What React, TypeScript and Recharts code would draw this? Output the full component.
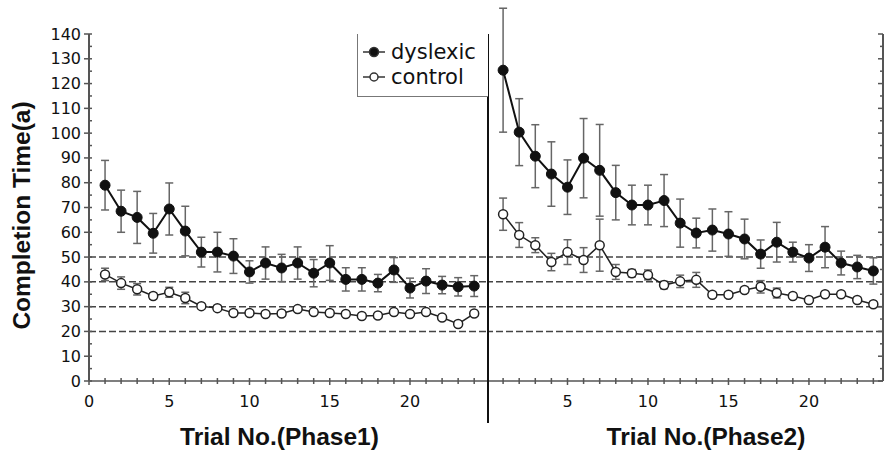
import React from "react";
import { ComposedChart, Line, XAxis, YAxis, ReferenceLine, ErrorBar, Label } from "recharts";

const trials = [1, 2, 3, 4, 5, 6, 7, 8, 9, 10, 11, 12, 13, 14, 15, 16, 17, 18, 19, 20, 21, 22, 23, 24];

// phase 1
const p1Dys = [79, 68.5, 66, 59.6, 69.4, 60.5, 52, 52, 50.4, 44, 47.6, 45.6, 47.6, 43.5, 47.6, 41, 41, 39.5, 44.8, 37.5, 40.3, 38.7, 38, 38.3];
const p1DysErr = [10, 8.5, 10.5, 8, 10.5, 10, 6, 8, 7, 4.5, 6.5, 5.5, 6.5, 5.5, 7, 4.7, 4.7, 3.5, 5, 4, 5, 3.5, 3.7, 4.2];
const p1Ctl = [43, 39.5, 37, 34.3, 35.8, 33.5, 30.2, 29.4, 27.4, 27.4, 27, 27.2, 29, 27.8, 27.4, 27, 26.2, 26.4, 27.8, 27, 27.8, 25.6, 23, 27.2];
const p1CtlErr = [2.5, 2.5, 2.3, 1.2, 2, 2.3, 1, 1, 0.8, 0.8, 0.8, 0.8, 0.8, 0.8, 0.8, 0.8, 0.8, 0.8, 1, 0.8, 0.8, 0.8, 1, 0.8];

// phase 2
const p2Dys = [125.4, 100.4, 90.7, 83.5, 78.2, 89.9, 85, 76, 71, 71, 72.8, 63.7, 59.7, 60.9, 59.3, 57.3, 51.2, 56, 52, 49.6, 54, 47.6, 46, 44.4];
const p2DysErr = [25, 13.5, 12.7, 13, 11, 16, 18.5, 11, 8, 8, 10.5, 9.7, 6, 8.5, 9, 8, 5.7, 8, 4, 5.4, 8.3, 4.8, 4.7, 5.3];
const p2Ctl = [67.3, 58.9, 54.8, 48, 52, 48.8, 54.8, 44, 43.5, 42.8, 38.7, 40.2, 40.8, 34.8, 34.8, 36.7, 38, 35.5, 34.3, 32.7, 35, 35, 32.7, 31];
const p2CtlErr = [6.5, 5, 3, 3.5, 5, 5, 10.5, 3, 1.5, 2, 1.5, 2.5, 3, 1, 1, 1, 2.5, 2, 1, 1, 1, 1, 1, 1];

const yTicks = [0, 5, 10, 15, 20, 25, 30, 35, 40, 45, 50, 55, 60, 65, 70, 75, 80, 85, 90, 95, 100, 105, 110, 115, 120, 125, 130, 135, 140];
const p1XTicks = [0, ...trials];
const p2XTicks = trials;
const dashedLevels = [20, 30, 40, 50];
const seriesNames = ["dyslexic", "control"];

const toRows = (dys: number[], dysErr: number[], ctl: number[], ctlErr: number[]) =>
  trials.map((t, i) => ({ trial: t, dys: dys[i], dysErr: dysErr[i], ctl: ctl[i], ctlErr: ctlErr[i] }));

const phase1 = toRows(p1Dys, p1DysErr, p1Ctl, p1CtlErr);
const phase2 = toRows(p2Dys, p2DysErr, p2Ctl, p2CtlErr);

const AXIS = "#555";
const INK = "#111";
const TICK_FONT = "DejaVu Sans, sans-serif";
const TITLE_FONT = "Liberation Sans, Arial, sans-serif";

const LeftYTick = (props: any) => {
  const { x, y, payload } = props;
  const major = payload.value % 10 === 0;
  return (
    <g>
      <line x1={major ? x - 5 : x} x2={x + 3} y1={y} y2={y} stroke={AXIS} strokeWidth={1.5} />
      {major && (
        <text x={x - 8} y={y} dy={5.5} textAnchor="end" fontSize={16} fill={INK} fontFamily={TICK_FONT}>
          {payload.value}
        </text>
      )}
    </g>
  );
};

const RightYTick = (props: any) => {
  const { x, y, payload } = props;
  const major = payload.value % 10 === 0;
  return <line x1={x - (major ? 5 : 3)} x2={x} y1={y} y2={y} stroke={AXIS} strokeWidth={1.5} />;
};

const makeXTick = (showZero: boolean) => (props: any) => {
  const { x, y, payload } = props;
  const v = payload.value;
  const labelled = v % 5 === 0 && (showZero || v !== 0);
  return (
    <g>
      <line x1={x} x2={x} y1={y - 3} y2={y + (labelled ? 4 : 3)} stroke={AXIS} strokeWidth={1.5} />
      {labelled && (
        <text x={x} y={y + 26} textAnchor="middle" fontSize={16} fill={INK} fontFamily={TICK_FONT}>
          {v}
        </text>
      )}
    </g>
  );
};

const XTitle = (text: string, shift: number) => (props: any) => {
  const { x, y, width } = props.viewBox;
  return (
    <text x={x + width / 2 + shift} y={y + 64} textAnchor="middle" fontSize={24.5} fontWeight="bold" fill={INK} fontFamily={TITLE_FONT}>
      {text}
    </text>
  );
};

const YTitle = (props: any) => {
  const { x, y, height } = props.viewBox;
  const cx = x + 21;
  const cy = y + height / 2 + 8;
  return (
    <text x={cx} y={cy} transform={`rotate(-90 ${cx} ${cy})`} textAnchor="middle" dominantBaseline="central" fontSize={24.5} fontWeight="bold" fill={INK} fontFamily={TITLE_FONT}>
      Completion Time(a)
    </text>
  );
};

const seriesLines = () => [
  <Line key="dys" xAxisId="b" dataKey="dys" type="linear" stroke={INK} strokeWidth={2}
    dot={{ r: 5, fill: INK, stroke: INK, strokeWidth: 1 }} isAnimationActive={false}>
    <ErrorBar dataKey="dysErr" direction="y" width={4} stroke="#666" strokeWidth={1.5} isAnimationActive={false} />
  </Line>,
  <Line key="ctl" xAxisId="b" dataKey="ctl" type="linear" stroke="#222" strokeWidth={1.5}
    dot={{ r: 4.5, fill: "#fff", stroke: "#222", strokeWidth: 1.5 }} isAnimationActive={false}>
    <ErrorBar dataKey="ctlErr" direction="y" width={4} stroke="#666" strokeWidth={1.5} isAnimationActive={false} />
  </Line>,
];

const dashed = () =>
  dashedLevels.map((lv) => (
    <ReferenceLine key={lv} xAxisId="b" y={lv} stroke="#444" strokeDasharray="7 3" strokeWidth={1.5} />
  ));

export default function App() {
  return (
    <div className="fig" style={{ position: "absolute", left: 0, top: 0, width: 888, height: 452, background: "#fff", fontFamily: TICK_FONT }}>
      {/* the first phase-2 error bar runs past the 140 frame, as in the original */}
      <style>{".fig .recharts-line [clip-path], .fig .recharts-line[clip-path] { clip-path: none; }"}</style>
      <div style={{ position: "absolute", left: 0, top: 0 }}>
        <ComposedChart width={488} height={452} data={phase1} margin={{ top: 34, right: 0, bottom: 0, left: 0 }}>
          <XAxis xAxisId="t" orientation="top" type="number" dataKey="trial" domain={[0, 24.86]} height={0} tick={false}
            tickLine={false} axisLine={{ stroke: "#777", strokeWidth: 1.5 }} />
          <XAxis xAxisId="b" type="number" dataKey="trial" domain={[0, 24.86]} ticks={p1XTicks} interval={0} height={71}
            tickLine={false} tickSize={0} tickMargin={0} tick={makeXTick(true)} axisLine={{ stroke: AXIS, strokeWidth: 1.5 }}>
            <Label content={XTitle("Trial No.(Phase1)", -9)} />
          </XAxis>
          <YAxis type="number" domain={[0, 140]} allowDataOverflow ticks={yTicks} interval={0} width={89}
            tickLine={false} tickSize={0} tickMargin={0} tick={LeftYTick} axisLine={{ stroke: AXIS, strokeWidth: 2 }}>
            <Label content={YTitle} />
          </YAxis>
          {dashed()}
          {seriesLines()}
        </ComposedChart>
      </div>
      <div style={{ position: "absolute", left: 487, top: 0 }}>
        <ComposedChart width={401} height={452} data={phase2} margin={{ top: 34, right: 0, bottom: 0, left: 0 }}>
          <XAxis xAxisId="t" orientation="top" type="number" dataKey="trial" domain={[0, 24.6]} height={0} tick={false}
            tickLine={false} axisLine={{ stroke: "#777", strokeWidth: 1.5 }} />
          <XAxis xAxisId="b" type="number" dataKey="trial" domain={[0, 24.6]} ticks={p2XTicks} interval={0} height={71}
            tickLine={false} tickSize={0} tickMargin={0} tick={makeXTick(false)} axisLine={{ stroke: AXIS, strokeWidth: 1.5 }}>
            <Label content={XTitle("Trial No.(Phase2)", 21)} />
          </XAxis>
          <YAxis orientation="right" type="number" domain={[0, 140]} allowDataOverflow ticks={yTicks} interval={0} width={5}
            tickLine={false} tickSize={0} tickMargin={0} tick={RightYTick} axisLine={{ stroke: AXIS, strokeWidth: 2 }} />
          {dashed()}
          {seriesLines()}
        </ComposedChart>
      </div>
      {/* phase divider, runs below the x axis */}
      <div style={{ position: "absolute", left: 487, top: 34, width: 2, height: 389, background: INK }} />
      {/* legend */}
      <div style={{ position: "absolute", left: 357, top: 34, width: 131, height: 63, boxSizing: "border-box",
        borderLeft: "1.5px solid #777", borderBottom: "1.5px solid #777", background: "#fff" }}>
        {seriesNames.map((name, i) => (
          <div key={name} style={{ position: "absolute", left: 4, top: 18 + i * 25 - 12, height: 24, display: "flex", alignItems: "center" }}>
            <svg width={24} height={14} style={{ marginRight: 5 }}>
              <line x1={1} x2={23} y1={7} y2={7} stroke="#333" strokeWidth={1.5} />
              <circle cx={12} cy={7} r={i === 0 ? 4.5 : 4} fill={i === 0 ? INK : "#fff"} stroke="#333" strokeWidth={1.5} />
            </svg>
            <span style={{ fontSize: 21, color: INK, fontFamily: TICK_FONT, lineHeight: "24px" }}>{name}</span>
          </div>
        ))}
      </div>
    </div>
  );
}
